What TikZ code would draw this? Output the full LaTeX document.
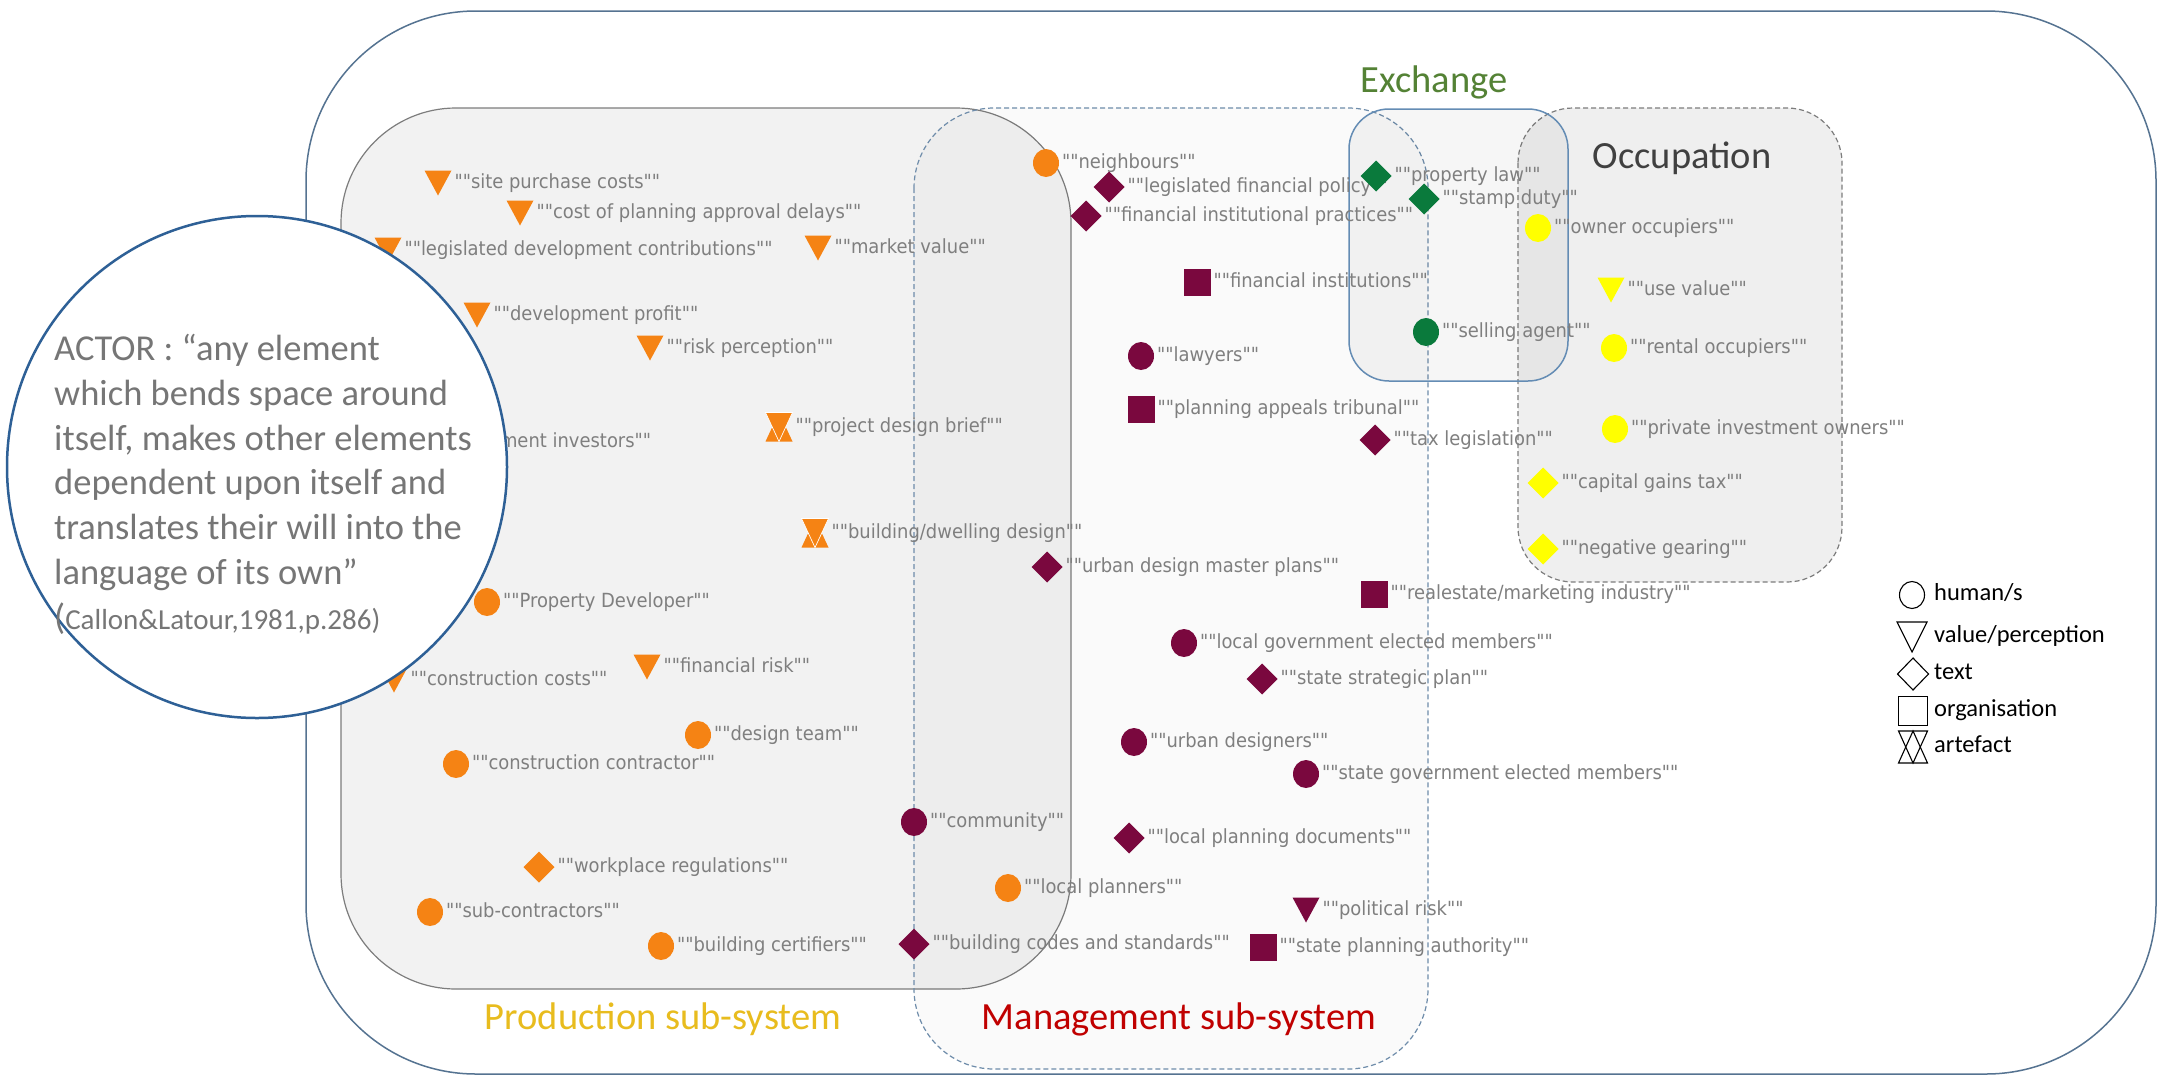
\documentclass[tikz,border=0pt]{standalone}
\usepackage{fontspec}
\setmainfont{Carlito}
\newfontfamily\labfont[FakeStretch=0.92]{DejaVu Sans}
\usetikzlibrary{shapes.geometric}
\definecolor{orng}{RGB}{245,131,20}
\definecolor{mrn}{RGB}{122,8,62}
\definecolor{grn}{RGB}{10,122,60}
\definecolor{ylw}{RGB}{255,255,0}
\definecolor{labgray}{RGB}{127,127,127}
\definecolor{circgray}{RGB}{118,118,118}
\definecolor{circblue}{RGB}{46,96,150}
\definecolor{outerc}{RGB}{85,115,145}
\definecolor{prodc}{RGB}{125,125,125}
\definecolor{mgmtc}{RGB}{110,140,170}
\definecolor{occc}{RGB}{125,125,125}
\definecolor{exc}{RGB}{100,140,180}
\definecolor{prodtitle}{RGB}{232,188,30}
\definecolor{mgmttitle}{RGB}{192,0,0}
\definecolor{extitle}{RGB}{84,130,53}
\definecolor{occtitle}{RGB}{64,64,64}
\newcommand\mkhum[5]{\node[humst=#2] (#1) at (#3,#4) {};\node[lab] (#1t) at ([xshift=3pt]#1.east) {#5};}
\newcommand\mkdoc[5]{\node[docst=#2] (#1) at (#3,#4) {};\node[lab] (#1t) at ([xshift=3pt]#1.east) {#5};}
\newcommand\mkorg[5]{\node[orgst=#2] (#1) at (#3,#4) {};\node[lab] (#1t) at ([xshift=3pt]#1.east) {#5};}
\newcommand\mktri[5]{\node[slot, minimum width=27pt, minimum height=25pt] (#1) at (#3,#4) {};
  \fill[#2] (#1.north west) -- (#1.north east) -- (#1.south) -- cycle;
  \node[lab] (#1t) at ([xshift=3pt]#1.east) {#5};}
\newcommand\mkart[5]{\node[slot, minimum width=27pt, minimum height=29pt] (#1) at (#3,#4) {};
  \fill[#2] (#1.south west) -- (#1.south east) -- (#1.north) -- cycle;
  \filldraw[fill=#2, draw=white, line width=0.7pt] (#1.north west) -- (#1.north east) -- (#1.south) -- cycle;
  \node[lab] (#1t) at ([xshift=3pt]#1.east) {#5};}
\begin{document}
\begin{tikzpicture}[x=1pt,y=-1pt,
  lab/.style={font=\labfont\fontsize{19.5}{22}\selectfont, text=labgray, inner sep=0pt, outer sep=0pt, text height=10.7pt, text depth=0pt, anchor=west},
  humst/.style={ellipse, fill=#1, minimum width=26pt, minimum height=28pt, inner sep=0pt, outer sep=0pt},
  docst/.style={diamond, fill=#1, minimum width=31pt, minimum height=31pt, inner sep=0pt, outer sep=0pt},
  orgst/.style={rectangle, fill=#1, minimum width=27pt, minimum height=27pt, inner sep=0pt, outer sep=0pt},
  slot/.style={rectangle, inner sep=0pt, outer sep=0pt},
  ttl/.style={font=\fontsize{38.5}{46}\selectfont, inner sep=0pt, anchor=base},
  leg/.style={font=\fontsize{24.5}{29}\selectfont, text=black, inner sep=0pt, anchor=west, text height=11.4pt, text depth=0pt},
  legsym/.style={draw=black, line width=1.1pt, inner sep=0pt, outer sep=0pt}
]
\useasboundingbox (0,0) rectangle (2162,1079);
\fill[white] (0,0) rectangle (2162,1079);

% frames
\draw[draw=outerc, line width=1.5pt, fill=white, rounded corners=170pt] (306,11) rectangle (2156,1074);
\draw[draw=prodc, line width=1.2pt, fill=black, fill opacity=0.05, rounded corners=115pt] (341,108) rectangle (1071,989);
\draw[draw=mgmtc, line width=1.2pt, dash pattern=on 5pt off 3pt, fill=black, fill opacity=0.02, rounded corners=80pt] (914,108) rectangle (1428,1069);
\draw[draw=occc, line width=1.2pt, dash pattern=on 5pt off 3pt, fill=black, fill opacity=0.063, rounded corners=55pt] (1518,108) rectangle (1842,582);
\draw[draw=exc, line width=1.5pt, fill=black, fill opacity=0.035, rounded corners=40pt] (1349,109) rectangle (1568,381);

% titles
\node[ttl, text=extitle] (tex) at (1434,92) {Exchange};
\node[ttl, text=occtitle] (tocc) at (1682,168) {Occupation};
\node[ttl, text=prodtitle] (tprod) at (663,1029) {Production sub-system};
\node[ttl, text=mgmttitle] (tmgmt) at (1179,1029) {Management sub-system};

% production actors
\mktri{a1}{orng}{438}{183}{""site purchase costs""}
\mktri{a2}{orng}{520}{213}{""cost of planning approval delays""}
\mktri{a3}{orng}{388}{250}{""legislated development contributions""}
\mktri{a4}{orng}{818}{248}{""market value""}
\mktri{a5}{orng}{477}{315}{""development profit""}
\mktri{a6}{orng}{650}{348}{""risk perception""}
\node[lab] (a7t) at (500,442) {ment investors""};
\mkart{a8}{orng}{779}{427}{""project design brief""}
\mkart{a9}{orng}{815}{533}{""building/dwelling design""}
\mkhum{a10}{orng}{487}{602}{""Property Developer""}
\mktri{a11}{orng}{394}{680}{""construction costs""}
\mktri{a12}{orng}{647}{667}{""financial risk""}
\mkhum{a13}{orng}{698}{735}{""design team""}
\mkhum{a14}{orng}{456}{764}{""construction contractor""}
\mkdoc{a16}{orng}{539}{867}{""workplace regulations""}
\mkhum{a17}{orng}{430}{912}{""sub-contractors""}
\mkhum{a18}{orng}{661}{946}{""building certifiers""}
\mkhum{a19}{orng}{1008}{888}{""local planners""}
\mkhum{a21}{orng}{1046}{163}{""neighbours""}

% management actors
\mkhum{a15}{mrn}{914}{822}{""community""}
\mkdoc{a20}{mrn}{914}{944}{""building codes and standards""}
\mkdoc{a22}{mrn}{1109}{187}{""legislated financial policy""}
\mkdoc{a23}{mrn}{1086}{216}{""financial institutional practices""}
\mkorg{a24}{mrn}{1197}{282}{""financial institutions""}
\mkhum{a25}{mrn}{1141}{356}{""lawyers""}
\mkorg{a26}{mrn}{1141}{409}{""planning appeals tribunal""}
\mkdoc{a27}{mrn}{1375}{440}{""tax legislation""}
\mkdoc{a28}{mrn}{1047}{567}{""urban design master plans""}
\mkorg{a29}{mrn}{1374}{594}{""realestate/marketing industry""}
\mkhum{a30}{mrn}{1184}{643}{""local government elected members""}
\mkdoc{a31}{mrn}{1262}{679}{""state strategic plan""}
\mkhum{a32}{mrn}{1134}{742}{""urban designers""}
\mkhum{a33}{mrn}{1306}{774}{""state government elected members""}
\mkdoc{a34}{mrn}{1129}{838}{""local planning documents""}
\mktri{a35}{mrn}{1306}{910}{""political risk""}
\mkorg{a36}{mrn}{1263}{947}{""state planning authority""}

% exchange actors
\mkdoc{a37}{grn}{1376}{176}{""property law""}
\mkdoc{a38}{grn}{1424}{199}{""stamp duty""}
\mkhum{a39}{grn}{1426}{332}{""selling agent""}

% occupation actors
\mkhum{a40}{ylw}{1538}{228}{""owner occupiers""}
\mktri{a41}{ylw}{1611}{290}{""use value""}
\mkhum{a42}{ylw}{1614}{348}{""rental occupiers""}
\mkhum{a43}{ylw}{1615}{429}{""private investment owners""}
\mkdoc{a44}{ylw}{1543}{483}{""capital gains tax""}
\mkdoc{a45}{ylw}{1543}{549}{""negative gearing""}

% actor definition circle
\node[ellipse, draw=circblue, line width=2.5pt, fill=white, minimum width=500pt, minimum height=502pt, inner sep=0pt] (actor) at (257,467) {};
\node[font=\fontsize{36.5}{44.7}\selectfont, text=circgray, align=left, anchor=base west, inner sep=0pt] (quote) at (54,629)
 {ACTOR : “any element\\which bends space around\\itself, makes other elements\\dependent upon itself and\\translates their will into the\\language of its own”\\({\fontsize{29}{44.7}\selectfont Callon\&Latour,1981,p.286)}};

% legend
\node[legsym, ellipse, minimum width=25pt, minimum height=27pt] (L1) at (1912,595) {};
\node[leg] (L1t) at (1934,595) {human/s};
\node[slot, minimum width=30pt, minimum height=30pt] (L2) at (1912,637) {};
\draw[line width=1.1pt] (L2.north west) -- (L2.north east) -- (L2.south) -- cycle;
\node[leg] (L2t) at (1934,637) {value/perception};
\node[legsym, diamond, minimum width=31pt, minimum height=32pt] (L3) at (1913,674) {};
\node[leg] (L3t) at (1934,674) {text};
\node[legsym, rectangle, minimum width=29pt, minimum height=29pt] (L4) at (1913,711) {};
\node[leg] (L4t) at (1934,711) {organisation};
\node[slot, minimum width=29pt, minimum height=32pt] (L5) at (1913,747) {};
\draw[line width=1.1pt] (L5.north west) -- (L5.north east) -- (L5.south) -- cycle;
\draw[line width=1.1pt] (L5.south west) -- (L5.south east) -- (L5.north) -- cycle;
\node[leg] (L5t) at (1934,747) {artefact};
\end{tikzpicture}
\end{document}
